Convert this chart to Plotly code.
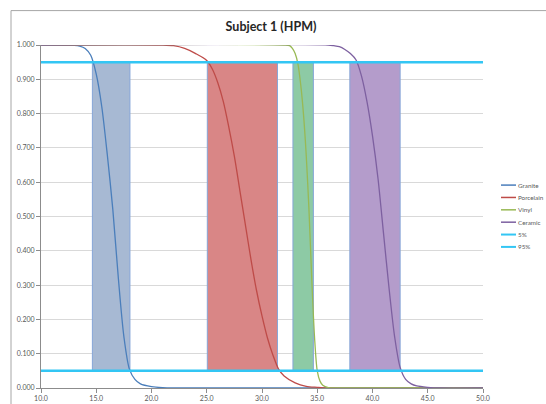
import plotly.graph_objects as go

# ---------------- data ----------------
granite_x = [10, 13, 13.5, 14, 14.5, 15, 15.5, 16, 16.5, 17, 17.5, 18, 18.5, 19, 20, 21, 22, 50]
granite_y = [1.0, 0.999, 0.997, 0.99, 0.97, 0.915, 0.82, 0.68, 0.52, 0.32, 0.15, 0.055, 0.025, 0.012, 0.004, 0.001, 0.0, 0.0]

porcelain_x = [10, 21, 22, 23, 24, 25, 25.5, 26, 26.5, 27, 27.5, 28, 28.5, 29, 29.5, 30, 30.5, 31, 31.5, 32, 33, 34, 35, 36, 50]
porcelain_y = [1.0, 1.0, 0.998, 0.99, 0.975, 0.955, 0.93, 0.89, 0.835, 0.76, 0.675, 0.575, 0.475, 0.375, 0.285, 0.21, 0.145, 0.095, 0.055, 0.035, 0.015, 0.005, 0.002, 0.0, 0.0]

vinyl_x = [10, 32, 32.5, 32.75, 33, 33.25, 33.5, 33.75, 34, 34.25, 34.5, 34.75, 35, 35.25, 35.5, 36, 37, 50]
vinyl_y = [1.0, 1.0, 0.998, 0.99, 0.975, 0.945, 0.885, 0.8, 0.68, 0.52, 0.32, 0.15, 0.05, 0.02, 0.008, 0.001, 0.0, 0.0]

ceramic_x = [10, 36, 36.5, 37, 37.5, 38, 38.5, 39, 39.5, 40, 40.5, 41, 41.5, 42, 42.5, 43, 43.5, 44, 45, 46, 50]
ceramic_y = [1.0, 1.0, 0.998, 0.995, 0.987, 0.975, 0.957, 0.91, 0.835, 0.735, 0.61, 0.45, 0.29, 0.15, 0.06, 0.025, 0.012, 0.006, 0.002, 0.0, 0.0]

# 5% / 95% reference lines
ref_x = [10, 50]
p5_y = [0.05, 0.05]
p95_y = [0.95, 0.95]

# shaded ranges (left, right) per material, spanning 5%..95%
box_left = [14.65, 25.05, 32.8, 37.95]
box_right = [18.05, 31.4, 34.65, 42.5]
box_low = 0.05
box_high = 0.95

series_names = ["Granite", "Porcelain", "Vinyl", "Ceramic", "5%", "95%"]
x_ticks = [10, 15, 20, 25, 30, 35, 40, 45, 50]
y_ticks = [0, 0.1, 0.2, 0.3, 0.4, 0.5, 0.6, 0.7, 0.8, 0.9, 1.0]

# ---------------- styles ----------------
line_colors = ["#4a7ebb", "#be4b48", "#98b954", "#7d60a0", "#33c6f4", "#33c6f4"]
box_fills = ["#a7b9d3", "#d98686", "#8dcaa5", "#b49ccb"]
box_edge = "#86a6d8"
FONT = "Lato"

W, H = 546, 404
PL, PR, PT, PB = 41, 483, 44.5, 388.5  # plot area in pixels

fig = go.Figure()

for i in range(4):
    l, r = box_left[i], box_right[i]
    fig.add_trace(go.Scatter(
        x=[l, l, r, r, l], y=[box_low, box_high, box_high, box_low, box_low],
        mode="lines", fill="toself", fillcolor=box_fills[i],
        line=dict(color=box_edge, width=1), showlegend=False, hoverinfo="skip"))

curves = [(granite_x, granite_y), (porcelain_x, porcelain_y), (vinyl_x, vinyl_y), (ceramic_x, ceramic_y)]
for i, (xs, ys) in enumerate(curves):
    fig.add_trace(go.Scatter(x=xs, y=ys, mode="lines", name=series_names[i],
                             line=dict(color=line_colors[i], width=1.3, shape="spline", smoothing=0.8),
                             showlegend=False))

fig.add_trace(go.Scatter(x=ref_x, y=p5_y, mode="lines", name="5%",
                         line=dict(color=line_colors[4], width=2.5), showlegend=False))
fig.add_trace(go.Scatter(x=ref_x, y=p95_y, mode="lines", name="95%",
                         line=dict(color=line_colors[5], width=2.5), showlegend=False))

def px_x(p):
    return (p - PL) / (PR - PL)

def px_y(p):
    return (PB - p) / (PB - PT)

shapes = []
annotations = []
# chart frame
shapes.append(dict(type="rect", xref="paper", yref="paper",
                   x0=px_x(11), x1=px_x(560), y0=px_y(420), y1=px_y(10),
                   line=dict(color="#a6a6a6", width=1), fillcolor="rgba(0,0,0,0)", layer="below"))
# manual legend
for i, name in enumerate(series_names):
    yy = px_y(185 + 12.4 * i)
    shapes.append(dict(type="line", xref="paper", yref="paper",
                       x0=px_x(501), x1=px_x(516), y0=yy, y1=yy,
                       line=dict(color=line_colors[i], width=2 if i >= 4 else 1.5)))
    annotations.append(dict(text=name, xref="paper", yref="paper", x=px_x(516.5), y=yy,
                            xanchor="left", yanchor="middle", showarrow=False, borderpad=0,
                            font=dict(family=FONT, size=6.3, color="#595959")))

fig.update_layout(
    width=W, height=H,
    margin=dict(l=PL, r=W - PR, t=PT, b=H - PB, autoexpand=False),
    paper_bgcolor="white", plot_bgcolor="white",
    title=dict(text="<b>Subject 1 (HPM)</b>", x=271 / W, y=1 - 27 / H,
               xanchor="center", yanchor="middle",
               font=dict(family=FONT, size=12.5, color="#262626")),
    showlegend=False,
    shapes=shapes, annotations=annotations,
    xaxis=dict(range=[10, 50], tickvals=x_ticks, tickformat=".1f",
               showgrid=False, zeroline=False, showline=True, linecolor="#8c8c8c", linewidth=1,
               ticks="outside", ticklen=4, tickcolor="#8c8c8c",
               tickfont=dict(family=FONT, size=7, color="#595959")),
    yaxis=dict(range=[0, 1], tickvals=y_ticks, tickformat=".3f",
               showgrid=True, gridcolor="#d9d9d9", gridwidth=1, zeroline=False,
               showline=True, linecolor="#8c8c8c", linewidth=1,
               ticks="outside", ticklen=4, tickcolor="#8c8c8c",
               tickfont=dict(family=FONT, size=7, color="#595959")),
)

fig.write_html("out.html", config={"displayModeBar": False},
               post_script="document.body.style.margin='0';document.body.style.overflow='hidden';")
